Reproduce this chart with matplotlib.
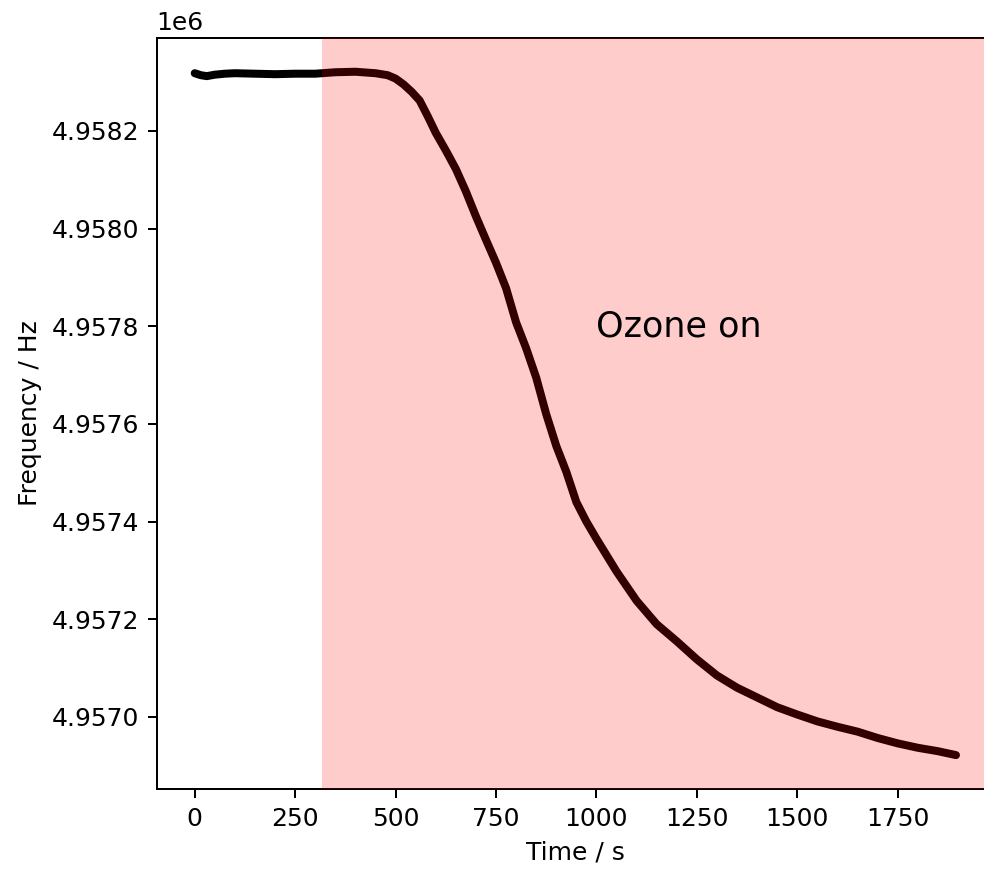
import numpy as np
import matplotlib.pyplot as plt

# time (s) and QCM frequency (Hz)
time_s = [0, 15, 30, 50, 75, 100, 150, 200, 250, 300, 350, 400, 450, 480,
          500, 520, 540, 560, 580, 600, 625, 650, 675, 700, 725, 750, 775,
          800, 825, 850, 875, 900, 925, 950, 975, 1000, 1050, 1100, 1150,
          1200, 1250, 1300, 1350, 1400, 1450, 1500, 1550, 1600, 1650, 1700,
          1750, 1800, 1850, 1895]
freq_hz = [4958318, 4958314, 4958312, 4958315, 4958317, 4958318, 4958317,
           4958316, 4958317, 4958317, 4958320, 4958321, 4958318, 4958314,
           4958307, 4958295, 4958280, 4958262, 4958230, 4958196, 4958160,
           4958122, 4958076, 4958025, 4957977, 4957930, 4957878, 4957808,
           4957755, 4957695, 4957620, 4957555, 4957502, 4957440, 4957400,
           4957365, 4957298, 4957238, 4957190, 4957155, 4957118, 4957085,
           4957060, 4957040, 4957020, 4957005, 4956991, 4956980, 4956970,
           4956957, 4956946, 4956937, 4956930, 4956922]

ozone_start = 317

fig = plt.figure(figsize=(984 / 180, 870 / 180), dpi=180)
ax = fig.add_axes([0.1592, 0.0928, 0.851, 0.864])

ax.plot(time_s, freq_hz, color='k', lw=3.2, solid_capstyle='round',
        solid_joinstyle='round')
ax.set_xlim(ax.get_xlim())
ax.axvspan(ozone_start, ax.get_xlim()[1], color='red', alpha=0.2, lw=0, zorder=3)

ax.text(1000, 4957780, 'Ozone on', fontsize=14)

ax.set_xlabel('Time / s')
ax.set_ylabel('Frequency / Hz')

fig.savefig('out.png', dpi=180)
